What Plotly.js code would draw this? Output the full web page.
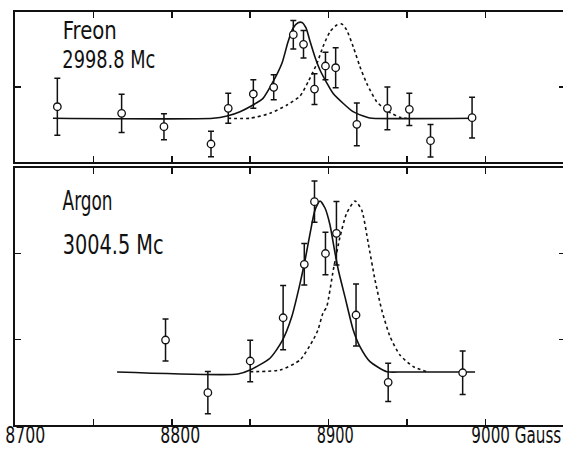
<!DOCTYPE html>
<html>
<head>
<meta charset="utf-8">
<script src="https://cdn.plot.ly/plotly-3.0.1.min.js"></script>
<style>
  html, body { margin: 0; padding: 0; background: #fff; overflow: hidden; }
  #chart { width: 566px; height: 449px; }
</style>
</head>
<body>
<div id="chart"></div>
<script>
// ---- Data ----
// Freon, 2998.8 Mc (upper panel)
const freonField = [8727, 8768, 8795, 8825, 8836, 8852, 8865, 8877.5, 8884, 8891, 8898, 8904.5, 8918, 8937.5, 8951.5, 8965, 8991.5];
const freonSignal = [0.737, 0.649, 0.471, 0.24, 0.716, 0.907, 0.996, 1.697, 1.569, 0.973, 1.28, 1.257, 0.503, 0.716, 0.703, 0.284, 0.591];
const freonError = [0.38, 0.256, 0.173, 0.171, 0.2, 0.19, 0.167, 0.19, 0.183, 0.205, 0.183, 0.267, 0.285, 0.285, 0.215, 0.216, 0.271];

const freonFitField = [8724.2, 8826.3, 8835.2, 8843.5, 8851.8, 8858.2, 8864.5, 8870.3, 8874.1, 8877.3, 8880.5, 8883.0, 8885.6, 8888.1, 8891.3, 8894.5, 8899.0, 8902.8, 8909.2, 8915.6, 8924.5, 8927.7, 8993.4];
const freonFitSignal = [0.583, 0.583, 0.613, 0.671, 0.76, 0.849, 1.067, 1.32, 1.6, 1.783, 1.857, 1.86, 1.787, 1.613, 1.4, 1.227, 1.049, 0.916, 0.783, 0.671, 0.597, 0.583, 0.583];

const freonRefField = [8835.8, 8849.9, 8862.6, 8873.5, 8881.8, 8886.9, 8892.6, 8896.4, 8900.9, 8905.2, 8908.4, 8911.5, 8915.7, 8920.0, 8924.3, 8930.7, 8938.1, 8945.5, 8949.8];
const freonRefSignal = [0.583, 0.583, 0.649, 0.76, 0.88, 1.067, 1.316, 1.537, 1.737, 1.827, 1.84, 1.76, 1.537, 1.271, 1.049, 0.804, 0.671, 0.597, 0.583];

// Argon, 3004.5 Mc (lower panel)
const argonField = [8796, 8823, 8850, 8871, 8884.5, 8891, 8898, 8905, 8917.5, 8938, 8985.5];
const argonSignal = [0.992, 0.377, 0.747, 1.252, 1.876, 2.607, 2.002, 2.238, 1.284, 0.498, 0.61];
const argonError = [0.245, 0.247, 0.243, 0.375, 0.243, 0.24, 0.247, 0.37, 0.363, 0.223, 0.253];

const argonFitField = [8765.1, 8842.2, 8849.9, 8862.6, 8870.1, 8876.5, 8881.8, 8885.0, 8888.2, 8891.3, 8894.5, 8897.7, 8900.9, 8903.4, 8906.2, 8910.4, 8915.7, 8920.0, 8926.4, 8937.1, 8947.4, 8993.4];
const argonFitSignal = [0.619, 0.595, 0.642, 0.779, 0.972, 1.264, 1.654, 1.926, 2.238, 2.508, 2.615, 2.533, 2.335, 2.078, 1.809, 1.498, 1.109, 0.914, 0.739, 0.622, 0.619, 0.619];

const argonRefField = [8849.9, 8869.0, 8881.8, 8890.1, 8893.2, 8896.4, 8898.8, 8903.0, 8907.3, 8911.5, 8916.8, 8921.1, 8925.3, 8929.6, 8933.9, 8939.2, 8945.5, 8954.0, 8962.6];
const argonRefSignal = [0.622, 0.642, 0.759, 0.992, 1.109, 1.307, 1.381, 1.809, 2.198, 2.471, 2.615, 2.51, 2.121, 1.693, 1.342, 1.031, 0.817, 0.681, 0.622];

const xTickValues = [8700, 8800, 8900, 9000];
const xTickLabels = ['8700', '8800', '8900', '9000 Gauss'];
const panelLabels = ['Freon', '2998.8 Mc', 'Argon', '3004.5 Mc'];

// ---- Styles ----
const FONT = 'DejaVu Sans Condensed, DejaVu Sans, sans-serif';
const solid = {color: '#111', width: 1.6, shape: 'spline', smoothing: 0.6};
const dashed = {color: '#111', width: 1.6, dash: '3px,3px', shape: 'spline', smoothing: 0.6};
const markerStyle = {symbol: 'circle', size: 7.5, color: '#fff', line: {color: '#111', width: 1.3}};
function errStyle(arr) {
  return {type: 'data', array: arr, visible: true, color: '#111', thickness: 1.5, width: 3};
}

const traces = [
  {x: freonRefField, y: freonRefSignal, xaxis: 'x2', yaxis: 'y2', mode: 'lines', line: dashed},
  {x: freonFitField, y: freonFitSignal, xaxis: 'x2', yaxis: 'y2', mode: 'lines', line: solid},
  {x: freonField, y: freonSignal, xaxis: 'x2', yaxis: 'y2', mode: 'markers', marker: markerStyle, error_y: errStyle(freonError)},
  {x: argonRefField, y: argonRefSignal, xaxis: 'x', yaxis: 'y', mode: 'lines', line: dashed},
  {x: argonFitField, y: argonFitSignal, xaxis: 'x', yaxis: 'y', mode: 'lines', line: solid},
  {x: argonField, y: argonSignal, xaxis: 'x', yaxis: 'y', mode: 'markers', marker: markerStyle, error_y: errStyle(argonError)}
];

const W = 566, H = 449;
const M = {l: 15, r: 1, t: 12, b: 24};
const plotW = W - M.l - M.r, plotH = H - M.t - M.b;
const xRange = [8700, 8700 + plotW / 1.568];

const xCommon = {
  range: xRange, showgrid: false, zeroline: false, showline: true, linecolor: '#111', linewidth: 2,
  mirror: 'ticks', ticks: 'inside', ticklen: 6, tickwidth: 1.5, tickcolor: '#111',
  tick0: 8700, dtick: 50, showticklabels: false, fixedrange: true
};
const yCommon = {
  showgrid: false, zeroline: false, showline: true, linecolor: '#111', linewidth: 2,
  mirror: 'ticks', ticks: 'inside', ticklen: 6, tickwidth: 1.5, tickcolor: '#111',
  tickmode: 'array', showticklabels: false, fixedrange: true
};

const px2paperX = px => (px - M.l) / plotW;
const px2paperY = py => 1 - (py - M.t) / plotH;

const annotations = [];
const fitWidths = [];
// x tick labels (bottom panel): centre pixel, target width
const tickCentre = [25, 180, 335.5, 516];
const tickWidth = [40, 40, 37, 90];
xTickValues.forEach((v, i) => {
  annotations.push({
    x: px2paperX(tickCentre[i]), xref: 'paper', y: px2paperY(435), yref: 'paper',
    text: xTickLabels[i], showarrow: false, xanchor: 'center', yanchor: 'middle', borderpad: 0,
    font: {family: FONT, size: 23, color: '#111'}
  });
  fitWidths.push(tickWidth[i]);
});
// panel labels: centre pixel, target width, font size
const labelPos = [[89.7, 30.5], [109.3, 59.5], [87.9, 201], [113.4, 245]];
const labelWidth = [54, 93, 50, 101];
const labelSize = [25, 25, 26, 26];
panelLabels.forEach((t, i) => {
  annotations.push({
    x: px2paperX(labelPos[i][0]), xref: 'paper', y: px2paperY(labelPos[i][1]), yref: 'paper',
    text: t, showarrow: false, xanchor: 'center', yanchor: 'middle', borderpad: 0,
    font: {family: FONT, size: labelSize[i], color: '#111'}
  });
  fitWidths.push(labelWidth[i]);
});

const layout = {
  width: W, height: H, margin: M, showlegend: false,
  paper_bgcolor: '#fff', plot_bgcolor: '#fff',
  xaxis: Object.assign({}, xCommon, {anchor: 'y', domain: [0, 1]}),
  yaxis: Object.assign({}, yCommon, {range: [0, 3], tickvals: [1, 2], domain: [0, 257 / plotH]}),
  xaxis2: Object.assign({}, xCommon, {anchor: 'y2', domain: [0, 1]}),
  yaxis2: Object.assign({}, yCommon, {range: [0, 2], tickvals: [1], domain: [1 - 150 / plotH, 1]}),
  annotations: annotations
};

Plotly.newPlot('chart', traces, layout, {staticPlot: true, displayModeBar: false}).then(gd => {
  // narrow the lettering horizontally like the hand-drawn original (text stays real text)
  gd.querySelectorAll('g.annotation').forEach(g => {
    const i = +g.getAttribute('data-index');
    const t = g.querySelector('text.annotation-text');
    if (!t || !fitWidths[i]) return;
    const bb = t.getBBox();
    if (!bb.width) return;
    const s = fitWidths[i] / bb.width;
    const cx = bb.x + bb.width / 2;
    t.setAttribute('transform', 'translate(' + cx + ',0) scale(' + s + ',1) translate(' + (-cx) + ',0)');
  });
});
</script>
</body>
</html>
